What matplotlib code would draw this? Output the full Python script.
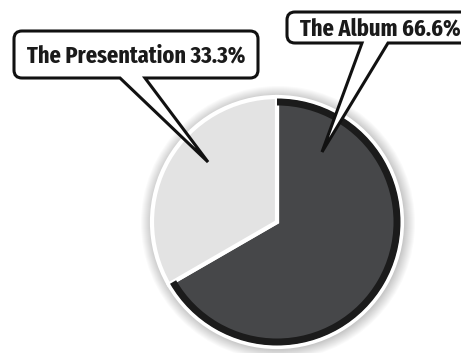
import matplotlib.pyplot as plt
from matplotlib.path import Path
from matplotlib.patches import PathPatch, Circle

labels = ['The Album', 'The Presentation']
shares = [66.6, 33.3]
colors = ['#464749', '#e3e3e3']

W, H = 461, 353


def Y(y):
    return H - y


def bubble(ax, x0, x1, y0, y1, b0, b1, tip, r=8):
    # rounded box with a pointer on its bottom edge, pixel coords (y down)
    v = [(x0 + r, y0), (x1 - r, y0), (x1, y0), (x1, y0 + r),
         (x1, y1 - r), (x1, y1), (x1 - r, y1),
         (b1, y1), tip, (b0, y1),
         (x0 + r, y1), (x0, y1), (x0, y1 - r),
         (x0, y0 + r), (x0, y0), (x0 + r, y0), (x0 + r, y0)]
    c = [Path.MOVETO, Path.LINETO, Path.CURVE3, Path.CURVE3,
         Path.LINETO, Path.CURVE3, Path.CURVE3,
         Path.LINETO, Path.LINETO, Path.LINETO,
         Path.LINETO, Path.CURVE3, Path.CURVE3,
         Path.LINETO, Path.CURVE3, Path.CURVE3, Path.CLOSEPOLY]
    v = [(a, Y(b)) for a, b in v]
    ax.add_patch(PathPatch(Path(v, c), facecolor='white', edgecolor='#111111',
                           lw=2.2, joinstyle='miter', zorder=5))


fig = plt.figure(figsize=(W / 100, H / 100), dpi=100)
ax = fig.add_axes([0, 0, 1, 1])

cx, cy, R = 277, Y(222), 125

# soft shadow
for i in range(12):
    ax.add_patch(Circle((cx + 1, cy - 1), R + 12 - i, color='black', alpha=0.018, lw=0, zorder=0))

ax.pie(shares, colors=colors, startangle=90, counterclock=False, center=(cx, cy), radius=R,
       wedgeprops=dict(edgecolor='white', linewidth=3), frame=True)
ax.pie(shares, colors=['#1b1b1b', (0, 0, 0, 0)], startangle=90, counterclock=False, center=(cx, cy),
       radius=R - 1.5, wedgeprops=dict(width=7, edgecolor='none'), frame=True)
ax.set_xlim(0, W)
ax.set_ylim(0, H)
ax.set_aspect('equal')
ax.axis('off')

bubble(ax, 14, 258, 31, 78, 120, 145, (208, 162))
bubble(ax, 287, 470, 12, 43, 362, 388, (322, 152))

font = dict(family=['Fira Sans Extra Condensed', 'DejaVu Sans'], weight='bold', fontsize=17.5,
            color='#1a1a1a', zorder=6, va='center', ha='center')
ax.text(136, Y(56), f'{labels[1]} {shares[1]}%', **font)
ax.text(380, Y(29), f'{labels[0]} {shares[0]}%', **font)

fig.savefig('out.png', dpi=100, facecolor='white')
